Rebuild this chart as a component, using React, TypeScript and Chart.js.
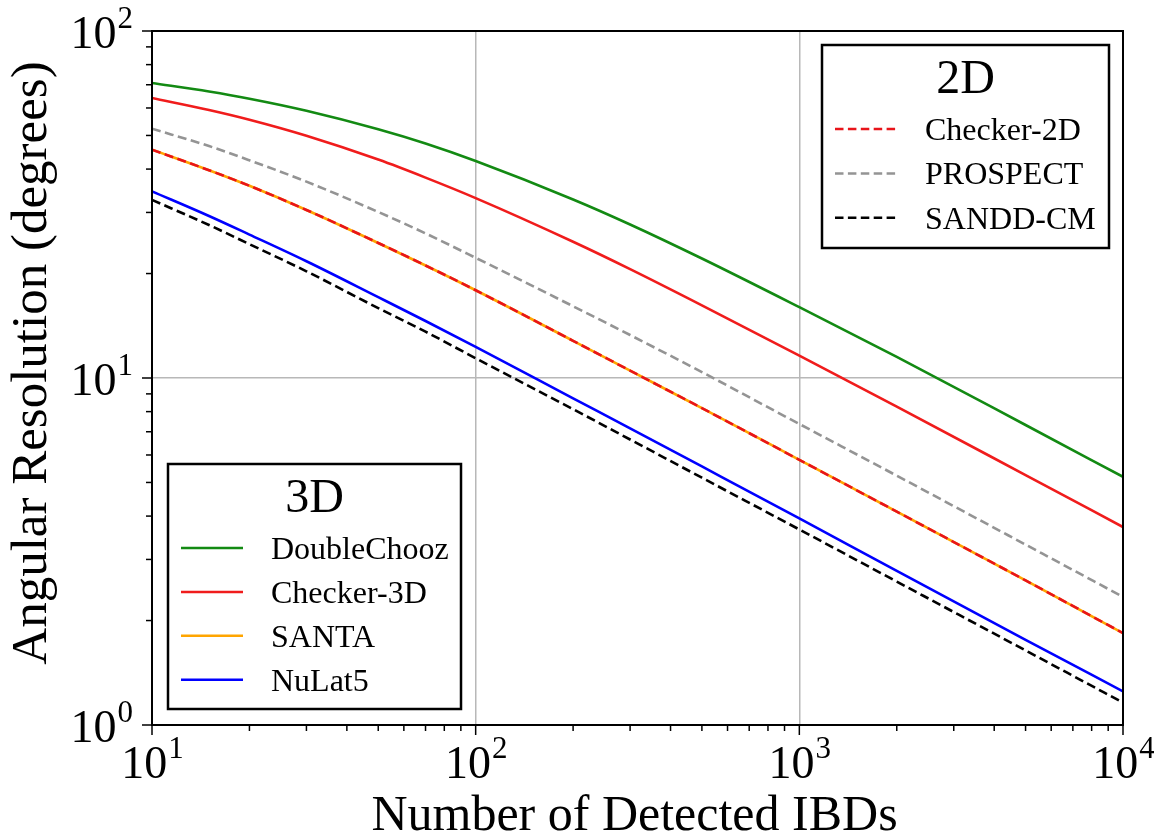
import React, { useEffect, useRef } from 'react';
import { Chart, registerables } from 'chart.js';

Chart.register(...registerables);

// ---- data ----
const detectedIBDs = [10, 15, 20, 30, 50, 70, 100, 200, 300, 500, 1000, 2000, 5000, 10000];
const doubleChooz = [70.8, 66.9, 63.8, 58.9, 52.1, 47.4, 42.2, 32.7, 27.7, 22.1, 16.0, 11.5, 7.32, 5.19];
const checker3D = [64.1, 59.2, 55.5, 49.9, 42.6, 37.8, 33.0, 24.7, 20.6, 16.2, 11.6, 8.27, 5.25, 3.72];
const santa = [45.5, 39.7, 35.8, 30.5, 24.5, 21.1, 17.9, 12.8, 10.5, 8.19, 5.81, 4.12, 2.61, 1.84];
const nuLat5 = [34.5, 29.3, 25.9, 21.7, 17.1, 14.6, 12.3, 8.74, 7.16, 5.56, 3.94, 2.78, 1.76, 1.25];
const checker2D = [45.5, 39.7, 35.8, 30.5, 24.5, 21.1, 17.9, 12.8, 10.5, 8.19, 5.81, 4.12, 2.61, 1.84];
const prospect = [52.3, 46.6, 42.4, 36.8, 30.1, 26.1, 22.2, 16.1, 13.3, 10.4, 7.37, 5.23, 3.31, 2.34];
const sanddCM = [32.6, 27.6, 24.3, 20.3, 15.9, 13.6, 11.4, 8.13, 6.65, 5.16, 3.66, 2.59, 1.64, 1.16];

const xMajorTicks = [10, 100, 1000, 10000];
const xMinorTicks = [20, 30, 40, 50, 60, 70, 80, 90, 200, 300, 400, 500, 600, 700, 800, 900, 2000, 3000, 4000, 5000, 6000, 7000, 8000, 9000];
const yMajorTicks = [1, 10, 100];
const yMinorTicks = [2, 3, 4, 5, 6, 7, 8, 9, 20, 30, 40, 50, 60, 70, 80, 90];

const xTitle = 'Number of Detected IBDs';
const yTitle = 'Angular Resolution (degrees)';
const legendTitle3D = '3D';
const legendTitle2D = '2D';

const FONT = '"Liberation Serif", "DejaVu Serif", serif';
const DASH = [9, 4.5];

const seriesTable = [
  { label: 'DoubleChooz', values: doubleChooz, color: '#138a13', dashed: false, group: '3D', order: 1 },
  { label: 'Checker-3D', values: checker3D, color: '#f01c1c', dashed: false, group: '3D', order: 1 },
  { label: 'SANTA', values: santa, color: '#ffa500', dashed: false, group: '3D', order: 2 },
  { label: 'NuLat5', values: nuLat5, color: '#0000ff', dashed: false, group: '3D', order: 1 },
  { label: 'Checker-2D', values: checker2D, color: '#e8141a', dashed: true, group: '2D', order: 0 },
  { label: 'PROSPECT', values: prospect, color: '#949494', dashed: true, group: '2D', order: 1 },
  { label: 'SANDD-CM', values: sanddCM, color: '#000000', dashed: true, group: '2D', order: 1 },
];

const decorPlugin = {
  id: 'decor',
  afterDraw(chart: any) {
    const ctx = chart.ctx as CanvasRenderingContext2D;
    const { left, right, top, bottom } = chart.chartArea;
    const xs = chart.scales.x;
    const ys = chart.scales.y;
    ctx.save();

    // frame
    ctx.strokeStyle = '#000';
    ctx.lineWidth = 2;
    ctx.setLineDash([]);
    ctx.strokeRect(left, top, right - left, bottom - top);

    // ticks
    ctx.lineWidth = 1.5;
    const tick = (x1: number, y1: number, x2: number, y2: number) => {
      ctx.beginPath();
      ctx.moveTo(x1, y1);
      ctx.lineTo(x2, y2);
      ctx.stroke();
    };
    xMajorTicks.forEach((v) => { const p = xs.getPixelForValue(v); tick(p, bottom, p, bottom + 10); });
    xMinorTicks.forEach((v) => { const p = xs.getPixelForValue(v); tick(p, bottom, p, bottom + 6); });
    yMajorTicks.forEach((v) => { const p = ys.getPixelForValue(v); tick(left - 10, p, left, p); });
    yMinorTicks.forEach((v) => { const p = ys.getPixelForValue(v); tick(left - 6, p, left, p); });

    // power-of-ten labels
    ctx.fillStyle = '#000';
    ctx.textBaseline = 'alphabetic';
    ctx.textAlign = 'left';
    const baseFont = `46px ${FONT}`;
    const supFont = `31px ${FONT}`;
    const measure = (v: number) => {
      const e = String(Math.round(Math.log10(v)));
      ctx.font = baseFont;
      const w10 = ctx.measureText('10').width;
      ctx.font = supFont;
      const ws = ctx.measureText(e).width;
      return { e, w10, ws };
    };
    const drawPow = (v: number, startX: number, baseline: number) => {
      const m = measure(v);
      ctx.font = baseFont;
      ctx.fillText('10', startX, baseline);
      ctx.font = supFont;
      ctx.fillText(m.e, startX + m.w10 + 1, baseline - 20);
    };
    xMajorTicks.forEach((v) => {
      const p = xs.getPixelForValue(v);
      const m = measure(v);
      drawPow(v, p - (m.w10 + m.ws) / 2, bottom + 53);
    });
    yMajorTicks.forEach((v) => {
      const p = ys.getPixelForValue(v);
      const m = measure(v);
      drawPow(v, left - 19 - (m.w10 + m.ws + 1), p + 17);
    });

    // axis titles
    ctx.font = `50px ${FONT}`;
    ctx.textAlign = 'center';
    ctx.fillText(xTitle, (left + right) / 2 - 3, bottom + 105);
    ctx.save();
    ctx.font = `51px ${FONT}`;
    ctx.translate(46, (top + bottom) / 2 - 15);
    ctx.rotate(-Math.PI / 2);
    ctx.fillText(yTitle, 0, 0);
    ctx.restore();

    // legends
    const drawLegend = (group: string, title: string, bx: number, by: number, bw: number, bh: number, rowGap: number) => {
      ctx.setLineDash([]);
      ctx.fillStyle = '#fff';
      ctx.fillRect(bx, by, bw, bh);
      ctx.strokeStyle = '#000';
      ctx.lineWidth = 2.5;
      ctx.strokeRect(bx, by, bw, bh);
      ctx.fillStyle = '#000';
      ctx.font = `48px ${FONT}`;
      ctx.textAlign = 'center';
      ctx.fillText(title, bx + bw / 2, by + 48);
      ctx.textAlign = 'left';
      ctx.font = `32px ${FONT}`;
      const items = chart.data.datasets.filter((d: any) => d.group === group);
      items.forEach((d: any, i: number) => {
        const ly = by + 84 + i * rowGap;
        ctx.strokeStyle = d.borderColor;
        ctx.lineWidth = 2.5;
        ctx.setLineDash(d.borderDash && d.borderDash.length ? [8.5, 4.4] : []);
        ctx.beginPath();
        ctx.moveTo(bx + 13, ly);
        ctx.lineTo(bx + 75, ly);
        ctx.stroke();
        ctx.setLineDash([]);
        ctx.fillStyle = '#000';
        ctx.fillText(d.label, bx + 103, ly + 11);
      });
    };
    drawLegend('2D', legendTitle2D, right - 14 - 287, top + 14, 287, 203, 44.4);
    drawLegend('3D', legendTitle3D, left + 16, bottom - 16 - 245, 293, 245, 43.9);

    ctx.restore();
  },
};

export default function App() {
  const canvasRef = useRef<HTMLCanvasElement | null>(null);

  useEffect(() => {
    const canvas = canvasRef.current;
    if (!canvas) return;
    const datasets = seriesTable.map((s) => ({
      label: s.label,
      data: detectedIBDs.map((n, i) => ({ x: n, y: s.values[i] })),
      borderColor: s.color,
      backgroundColor: s.color,
      borderWidth: 2.6,
      borderDash: s.dashed ? DASH : [],
      pointRadius: 0,
      fill: false,
      cubicInterpolationMode: 'monotone',
      order: s.order,
      group: s.group,
    }));

    const gridColor = (c: any) => {
      const v = c.tick ? c.tick.value : 0;
      const e = Math.log10(v);
      return Math.abs(e - Math.round(e)) < 1e-9 ? '#b8b8b8' : 'rgba(0,0,0,0)';
    };

    const chart = new Chart(canvas, {
      type: 'line',
      data: { datasets } as any,
      options: {
        animation: false,
        responsive: false,
        maintainAspectRatio: false,
        layout: { padding: { left: 152, right: 31, top: 31, bottom: 113 } },
        plugins: { legend: { display: false }, tooltip: { enabled: false }, title: { display: false } },
        scales: {
          x: {
            type: 'logarithmic',
            position: 'bottom',
            min: 10,
            max: 10000,
            ticks: { display: false },
            grid: { color: gridColor, lineWidth: 1.5, drawTicks: false },
            border: { display: false },
            afterBuildTicks: (s: any) => { s.ticks = xMajorTicks.map((v) => ({ value: v, major: true })); },
            afterFit: (s: any) => { s.height = 0; },
          },
          y: {
            type: 'logarithmic',
            position: 'left',
            min: 1,
            max: 100,
            ticks: { display: false },
            grid: { color: gridColor, lineWidth: 1.5, drawTicks: false },
            border: { display: false },
            afterBuildTicks: (s: any) => { s.ticks = yMajorTicks.map((v) => ({ value: v, major: true })); },
            afterFit: (s: any) => { s.width = 0; },
          },
        },
      } as any,
      plugins: [decorPlugin],
    });
    return () => chart.destroy();
  }, []);

  return (
    <div style={{ position: 'fixed', left: 0, top: 0, width: 1154, height: 838, background: '#fff' }}>
      <canvas ref={canvasRef} width={1154} height={838} style={{ width: 1154, height: 838, display: 'block' }} />
    </div>
  );
}
